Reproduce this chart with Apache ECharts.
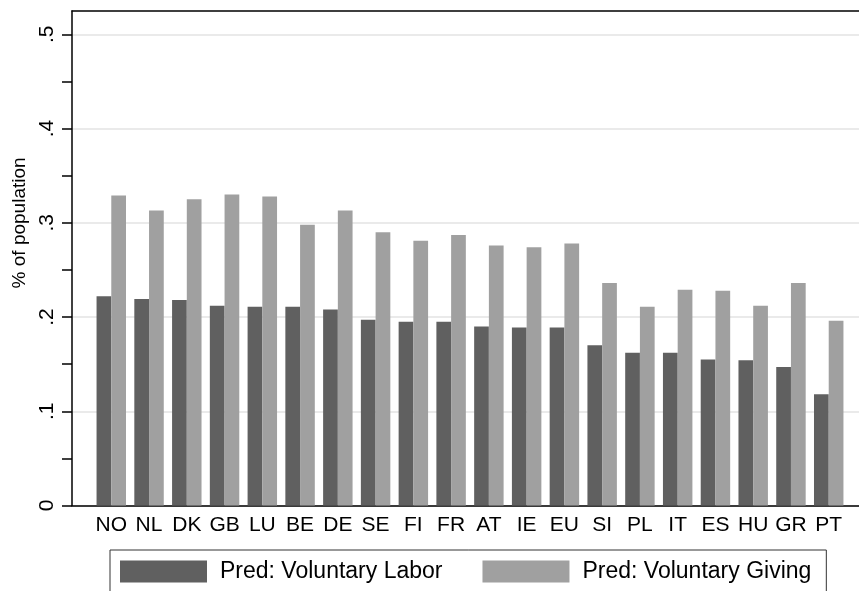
<!DOCTYPE html>
<html>
<head>
<meta charset="utf-8">
<script src="https://cdn.jsdelivr.net/npm/echarts@6/dist/echarts.min.js"></script>
<style>html,body{margin:0;padding:0;background:#fff;}#c{width:859px;height:591px;}</style>
</head>
<body>
<div id="c"></div>
<script>
const categories = ['NO','NL','DK','GB','LU','BE','DE','SE','FI','FR','AT','IE','EU','SI','PL','IT','ES','HU','GR','PT'];
const laborValues = [0.222,0.219,0.218,0.212,0.211,0.211,0.208,0.197,0.195,0.195,0.190,0.189,0.189,0.170,0.162,0.162,0.155,0.154,0.147,0.118];
const givingValues = [0.329,0.313,0.325,0.330,0.328,0.298,0.313,0.290,0.281,0.287,0.276,0.274,0.278,0.236,0.211,0.229,0.228,0.212,0.236,0.196];
const seriesNames = ['Pred: Voluntary Labor','Pred: Voluntary Giving'];
const yTicks = [0,0.1,0.2,0.3,0.4,0.5];

const FONT = '"Liberation Sans", Arial, sans-serif';
const chart = echarts.init(document.getElementById('c'), null, {renderer:'canvas'});
chart.setOption({
  animation:false,
  backgroundColor:'#fff',
  textStyle:{fontFamily:FONT},
  grid:[
    {left:72, top:11, right:-20, bottom:85.5},
    {left:72, top:34.3, right:-20, bottom:85.5},
    {left:92.4, width:755.2, top:34.3, bottom:85.5}
  ],
  xAxis:[
    {gridIndex:0, type:'value', position:'bottom', min:0, max:1, axisLine:{show:true,lineStyle:{color:'#000',width:1.5}}, axisTick:{show:false}, axisLabel:{show:false}, splitLine:{show:false}},
    {gridIndex:0, type:'value', position:'top', min:0, max:1, axisLine:{show:true,lineStyle:{color:'#000',width:1.5}}, axisTick:{show:false}, axisLabel:{show:false}, splitLine:{show:false}},
    {gridIndex:1, type:'value', min:0, max:1, show:false},
    {gridIndex:2, type:'category', data:categories,
      axisLine:{show:false}, axisTick:{show:false},
      axisLabel:{interval:0, color:'#000', fontSize:21, fontFamily:FONT, margin:9}}
  ],
  yAxis:[
    {gridIndex:0, type:'value', min:0, max:1, axisLine:{show:true,lineStyle:{color:'#000',width:1.5}}, axisTick:{show:false}, axisLabel:{show:false}, splitLine:{show:false}},
    {gridIndex:1, type:'value', min:0, max:0.5, interval:0.05,
      axisLine:{show:false},
      axisTick:{show:true, length:10, lineStyle:{color:'#000', width:1.5}},
      axisLabel:{show:true, rotate:90, margin:14, color:'#000', fontSize:21, fontFamily:FONT,
        formatter:function(v){
          const r = Math.round(v*100)/100;
          if (!yTicks.some(t=>Math.abs(t-r)<1e-9)) return '';
          if (r===0) return '0';
          return String(r).replace(/^0/,'');
        }},
      splitLine:{show:true, lineStyle:{color:['#e3e3e3','rgba(0,0,0,0)'], width:1.5}},
      name:'% of population', nameLocation:'middle', nameGap:43, nameRotate:90,
      nameTextStyle:{color:'#000', fontSize:19, fontFamily:FONT, padding:[0,0,0,94]}
    },
    {gridIndex:2, type:'value', min:0, max:0.5, show:false}
  ],
  legend:{
    left:110, top:550, orient:'horizontal',
    data:seriesNames,
    icon:'rect', itemWidth:87, itemHeight:22, itemGap:40,
    borderColor:'#333', borderWidth:1,
    padding:[10,15,30,10],
    textStyle:{color:'#000', fontSize:23, fontFamily:FONT, padding:[0,0,0,8]}
  },
  series:[
    {name:seriesNames[0], type:'bar', xAxisIndex:3, yAxisIndex:2, data:laborValues,
      barGap:'0%', barCategoryGap:'22%', itemStyle:{color:'#606060'}},
    {name:seriesNames[1], type:'bar', xAxisIndex:3, yAxisIndex:2, data:givingValues,
      barGap:'0%', barCategoryGap:'22%', itemStyle:{color:'#a0a0a0'}}
  ]
});
</script>
</body>
</html>
